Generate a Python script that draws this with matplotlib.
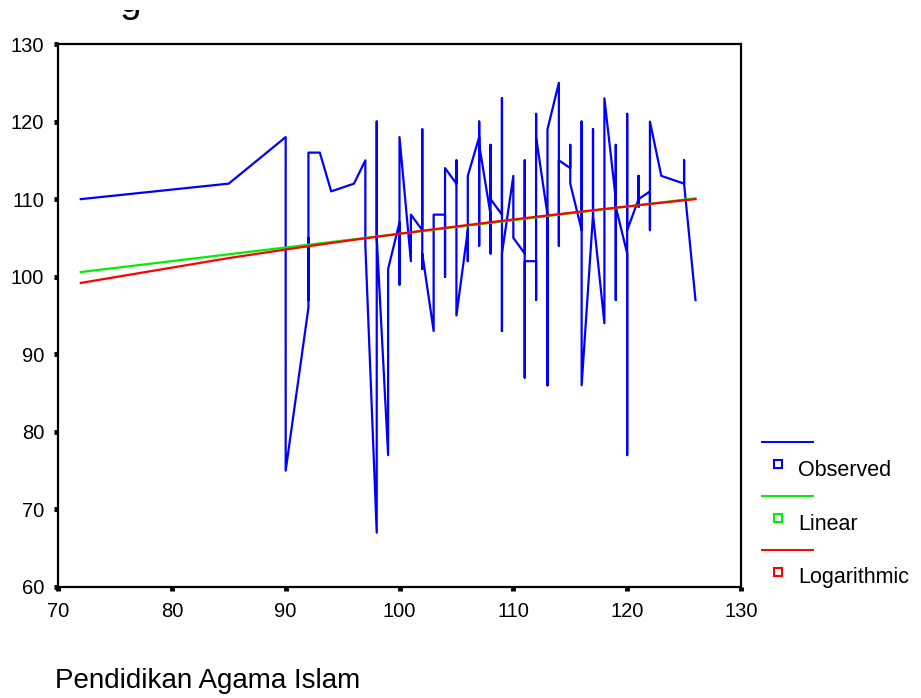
import numpy as np
import matplotlib
matplotlib.use("Agg")
import matplotlib.pyplot as plt
from matplotlib.lines import Line2D
from matplotlib.patches import Rectangle

plt.rcParams['font.family'] = ['Liberation Sans', 'DejaVu Sans']

# observed cases, grouped by x in the order SPSS connects them
x_values = [72, 85, 90, 92, 93, 94, 96, 97, 98, 99, 100, 101, 102, 103, 104,
            105, 106, 107, 108, 109, 110, 111, 112, 113, 114, 115, 116, 117,
            118, 119, 120, 121, 122, 123, 125, 126]
y_groups = [[110], [112], [118, 75], [96, 105, 97, 116], [116], [111], [112],
            [115, 104], [67, 120, 105], [77, 101], [107, 99, 118], [102, 108],
            [106, 119, 101, 103], [93, 108], [108, 100, 114], [112, 115, 95],
            [106, 102, 113], [118, 104, 120, 117], [108, 103, 117, 110],
            [108, 123, 93, 103], [113, 105], [103, 115, 87, 102],
            [102, 97, 121, 118], [108, 86, 119], [125, 104, 115],
            [114, 117, 112], [106, 120, 86], [108, 119, 108], [94, 123],
            [110, 97, 117, 109], [103, 77, 121, 106], [110, 113, 109, 110],
            [111, 106, 120], [113], [112, 115, 112], [97]]

# fitted models
lin_a, lin_b = 87.93, 0.176
log_a, log_b = 16.66, 19.3

x_ticks = [70, 80, 90, 100, 110, 120, 130]
y_ticks = [60, 70, 80, 90, 100, 110, 120, 130]

obs_x = []
obs_y = []
for xv, ys in zip(x_values, y_groups):
    for yv in ys:
        obs_x.append(xv)
        obs_y.append(yv)

xs = np.array(x_values, dtype=float)
lin_y = lin_a + lin_b * xs
log_y = log_a + log_b * np.log(xs)

W, H = 921, 698
fig = plt.figure(figsize=(W / 100, H / 100), dpi=100)
ax = fig.add_axes([58 / W, 111 / H, 683 / W, 543 / H])

ax.plot(obs_x, obs_y, color='#0000ff', lw=1.6)
ax.plot(xs, lin_y, color='#00ee00', lw=1.6)
ax.plot(xs, log_y, color='#ff0000', lw=1.6)

ax.set_xlim(70, 130)
ax.set_ylim(60, 130)
ax.set_xticks(x_ticks)
ax.set_yticks(y_ticks)
ax.tick_params(axis='both', direction='out', length=3, width=3.5,
               labelsize=14.5, color='black')
ax.tick_params(axis='x', pad=8)
ax.tick_params(axis='y', pad=7)
for s in ax.spines.values():
    s.set_linewidth(1.6)

ax.set_xlabel('Pendidikan Agama Islam', fontsize=20, ha='left', va='baseline')
ax.xaxis.set_label_coords(-0.004, -0.186)

# title cut off at the top of the picture: only the tail of the g shows
fig.text(119 / W, 1 - 12 / H, 'g', fontsize=28, ha='left', va='baseline')
fig.add_artist(Rectangle((0, 1 - 10 / H), 1, 10 / H, transform=fig.transFigure,
                         facecolor='white', edgecolor='none', zorder=10))

# SPSS-style legend on the right
entries = [('Observed', '#0000ff', 442), ('Linear', '#00ee00', 496),
           ('Logarithmic', '#ff0000', 550)]
for label, c, ly in entries:
    fig.add_artist(Line2D([762 / W, 813 / W], [1 - ly / H, 1 - ly / H],
                          color=c, lw=1.4, transform=fig.transFigure))
    fig.add_artist(Line2D([777.5 / W], [1 - (ly + 22) / H], marker='s',
                          markersize=5.5, markerfacecolor='white',
                          markeredgecolor=c, markeredgewidth=1.5,
                          linestyle='none', transform=fig.transFigure))
    fig.text(798 / W, 1 - (ly + 28) / H, label, fontsize=15.5,
             ha='left', va='center')

fig.savefig('out.png', dpi=100)
